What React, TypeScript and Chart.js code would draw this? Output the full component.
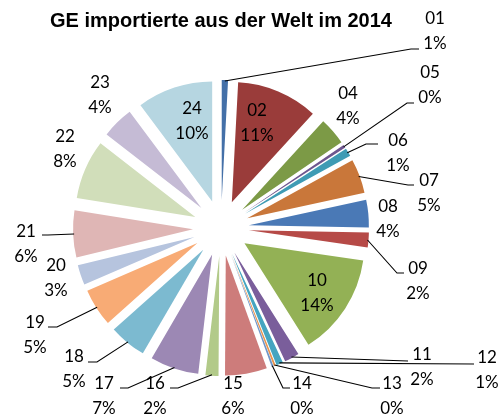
import React, { useEffect, useRef } from 'react';
import { Chart, registerables } from 'chart.js';

Chart.register(...registerables);

const chartTitle = 'GE importierte aus der Welt im 2014';

const categories = ['01', '02', '04', '05', '06', '07', '08', '09', '10', '11', '12', '13', '14', '15', '16', '17', '18', '19', '20', '21', '22', '23', '24'];

const shares = [0.84, 10.96, 3.7, 0.4, 1.1, 4.6, 3.7, 2.0, 13.75, 2.0, 0.9, 0.25, 0.25, 5.65, 1.75, 6.55, 5.0, 5.1, 2.7, 6.3, 8.0, 4.3, 10.2];

const sliceColors = [
  '#4470A8', '#9A3C3A', '#7C9A46', '#6E568E', '#3F9BB4', '#C9773A',
  '#4A79B6', '#B64A47', '#93B155', '#7A5E9B', '#45A5C0', '#E8944C',
  '#6F95C8', '#CD7C7B', '#B2CA89', '#9C88B4', '#7CBAD0', '#F8AB75',
  '#B6C4DE', '#DFB6B5', '#D1DEBA', '#C5BBD5', '#B6D6E1',
];

// label layout (first-line centre; optional leader elbow and end)
type LabelPos = { x: number; y: number; elbow?: [number, number]; end?: [number, number] };
const labelLayout: Record<string, LabelPos> = {
  '01': { x: 435, y: 18, elbow: [411, 49], end: [419, 49] },
  '02': { x: 257, y: 110 },
  '04': { x: 348, y: 93 },
  '05': { x: 430, y: 72, elbow: [407, 103], end: [414, 103] },
  '06': { x: 398, y: 140, elbow: [366, 144], end: [378, 144] },
  '07': { x: 429, y: 180, elbow: [408, 185], end: [414, 185] },
  '08': { x: 388, y: 206 },
  '09': { x: 418, y: 268, elbow: [397, 273], end: [404, 273] },
  '10': { x: 317, y: 280 },
  '11': { x: 422, y: 354, elbow: [408, 361], end: [408, 361] },
  '12': { x: 487, y: 357, elbow: [474, 364], end: [474, 364] },
  '13': { x: 392, y: 383, elbow: [372, 388], end: [380, 388] },
  '14': { x: 302, y: 383, elbow: [283, 388], end: [290, 388] },
  '15': { x: 233, y: 383 },
  '16': { x: 155, y: 383, elbow: [178, 388], end: [170, 388] },
  '17': { x: 104, y: 383, elbow: [128, 388], end: [120, 388] },
  '18': { x: 74, y: 356, elbow: [97, 362], end: [88, 362] },
  '19': { x: 35, y: 322, elbow: [57, 327], end: [48, 327] },
  '20': { x: 56, y: 265 },
  '21': { x: 26, y: 231, elbow: [48, 235], end: [42, 235] },
  '22': { x: 65, y: 136 },
  '23': { x: 100, y: 82 },
  '24': { x: 192, y: 108 },
};

const RADIUS = 120;
const EXPLODE = 28;
const LINE_GAP = 24.5;

const explodePlugin = {
  id: 'explodeAndLabels',
  beforeDatasetsDraw(chart: any) {
    const meta = chart.getDatasetMeta(0);
    const area = chart.chartArea;
    const cx = (area.left + area.right) / 2;
    const cy = (area.top + area.bottom) / 2;
    meta.data.forEach((arc: any) => {
      const mid = (arc.startAngle + arc.endAngle) / 2;
      arc.x = cx + Math.cos(mid) * EXPLODE;
      arc.y = cy + Math.sin(mid) * EXPLODE;
    });
  },
  afterDatasetsDraw(chart: any) {
    const ctx: CanvasRenderingContext2D = chart.ctx;
    const meta = chart.getDatasetMeta(0);
    const data: number[] = chart.data.datasets[0].data;
    const total = data.reduce((a, b) => a + b, 0);
    ctx.save();
    // leaders
    ctx.strokeStyle = '#000000';
    ctx.lineWidth = 1.1;
    meta.data.forEach((arc: any, i: number) => {
      const pos = labelLayout[categories[i]];
      if (!pos || !pos.elbow || !pos.end) return;
      const mid = (arc.startAngle + arc.endAngle) / 2;
      const sx = arc.x + Math.cos(mid) * (arc.outerRadius - 1);
      const sy = arc.y + Math.sin(mid) * (arc.outerRadius - 1);
      ctx.beginPath();
      ctx.moveTo(sx, sy);
      ctx.lineTo(pos.elbow[0], pos.elbow[1]);
      ctx.lineTo(pos.end[0], pos.end[1]);
      ctx.stroke();
    });
    // labels
    ctx.fillStyle = '#000000';
    ctx.font = '17px Lato';
    ctx.textAlign = 'center';
    ctx.textBaseline = 'alphabetic';
    meta.data.forEach((arc: any, i: number) => {
      const pos = labelLayout[categories[i]];
      if (!pos) return;
      const pct = Math.round((data[i] / total) * 100) + '%';
      ctx.fillText(categories[i], pos.x, pos.y + 6);
      ctx.fillText(pct, pos.x, pos.y + LINE_GAP + 6);
    });
    // title
    ctx.font = 'bold 20px "Liberation Sans", Arial, sans-serif';
    ctx.fillText(chartTitle, 221, 26.5);
    ctx.restore();
  },
};

export default function App() {
  const canvasRef = useRef<HTMLCanvasElement | null>(null);
  useEffect(() => {
    if (!canvasRef.current) return;
    const chart = new Chart(canvasRef.current, {
      type: 'pie',
      data: {
        labels: categories,
        datasets: [
          {
            data: shares,
            backgroundColor: sliceColors,
            borderWidth: 0,
          },
        ],
      },
      options: {
        animation: false,
        responsive: false,
        maintainAspectRatio: false,
        radius: RADIUS,
        layout: { padding: { left: 0, right: 57, top: 40, bottom: 0 } },
        plugins: {
          legend: { display: false },
          tooltip: { enabled: false },
          title: { display: false },
        },
      } as any,
      plugins: [explodePlugin],
    });
    return () => chart.destroy();
  }, []);
  return (
    <div style={{ position: 'fixed', left: 0, top: 0, width: 499, height: 416, background: '#ffffff' }}>
      <canvas ref={canvasRef} width={499} height={416} style={{ width: 499, height: 416, display: 'block' }} />
    </div>
  );
}
